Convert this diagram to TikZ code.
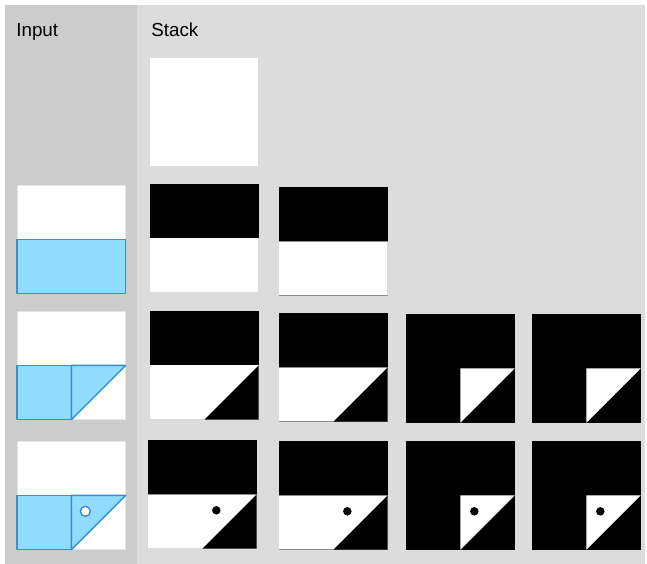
\documentclass[tikz,border=0pt]{standalone}
\usepackage{fontspec}
\setmainfont{Liberation Sans}
\usepackage{xcolor}
\usepackage{tikz}
\usetikzlibrary{positioning}
\definecolor{panelgray}{HTML}{DCDCDC}
\definecolor{inputgray}{HTML}{CCCCCC}
\definecolor{myblue}{HTML}{8FDCFF}
\definecolor{myblueline}{HTML}{3F8CCB}
\begin{document}
\begin{tikzpicture}[x=0.02cm, y=-0.02cm,
    tile/.style={draw=none, fill=white, minimum width=2.16cm, minimum height=2.16cm, inner sep=0pt, anchor=north west},
    intile/.style={tile, draw=black!10, line width=0.4pt},
    title/.style={anchor=base west, inner sep=0pt, font=\fontsize{10.7}{13}\selectfont},
    bluepart/.style={fill=myblue, draw=myblueline, line width=0.8pt, line join=round},
    seam/.style={draw=black!45, line width=0.5pt}]
    \useasboundingbox (0,0) rectangle (647,564);
    \fill[white] (0,0) rectangle (647,564);
    \fill[panelgray] (5,5) rectangle (645,564);
    \fill[inputgray] (5,5) rectangle (137,564);
    \node[title] (inlabel) at (16,37) {Input};
    \node[title] (stlabel) at (151,37) {Stack};
    % tiles
    \node[tile] (s0a) at (150,58) {};
    \node[intile] (in1) at (17,185) {};
    \foreach \n/\x/\y in {s1a/150/184, s1b/279/187}
        \node[tile] (\n) at (\x,\y) {};
    \node[intile] (in2) at (17,311) {};
    \foreach \n/\x/\y in {s2a/150/311, s2b/279/313, s2c/406/314, s2d/532/314}
        \node[tile] (\n) at (\x,\y) {};
    \node[intile] (in3) at (17,441) {};
    \foreach \n/\x/\y in {s3a/148/440, s3b/279/441, s3c/406/441, s3d/532/441}
        \node[tile] (\n) at (\x,\y) {};
    % stack contents
    \foreach \n in {s1a,s1b,s2a,s2b,s3a,s3b}
        \fill (\n.north west) rectangle (\n.east);
    \foreach \n in {s1b,s2b,s3a,s3b}
        \draw[seam] (\n.west) -- (\n.east);
    \foreach \n in {s1b,s2b,s3b}
        \draw[seam] (\n.south west) -- (\n.south east);
    \foreach \n in {s2a,s2b,s3a,s3b}
        \fill (\n.east) -- (\n.south east) -- (\n.south) -- cycle;
    \foreach \n in {s2c,s2d,s3c,s3d} {
        \fill (\n.north west) rectangle (\n.south east);
        \fill[white] (\n.center) -- (\n.east) -- (\n.south) -- cycle;
    }
    \foreach \n in {s3a,s3b,s3c,s3d}
        \fill ([shift={(14,16)}]\n.center) circle (0.085cm);
    % input contents
    \draw[bluepart] (in1.west) rectangle (in1.south east);
    \foreach \n in {in2,in3} {
        \draw[bluepart] (\n.west) rectangle (\n.south);
        \draw[bluepart] (\n.center) -- (\n.east) -- (\n.south) -- cycle;
    }
    \draw[fill=white, draw=myblueline, line width=0.8pt] ([shift={(14,16)}]in3.center) circle (0.1cm);
\end{tikzpicture}
\end{document}
